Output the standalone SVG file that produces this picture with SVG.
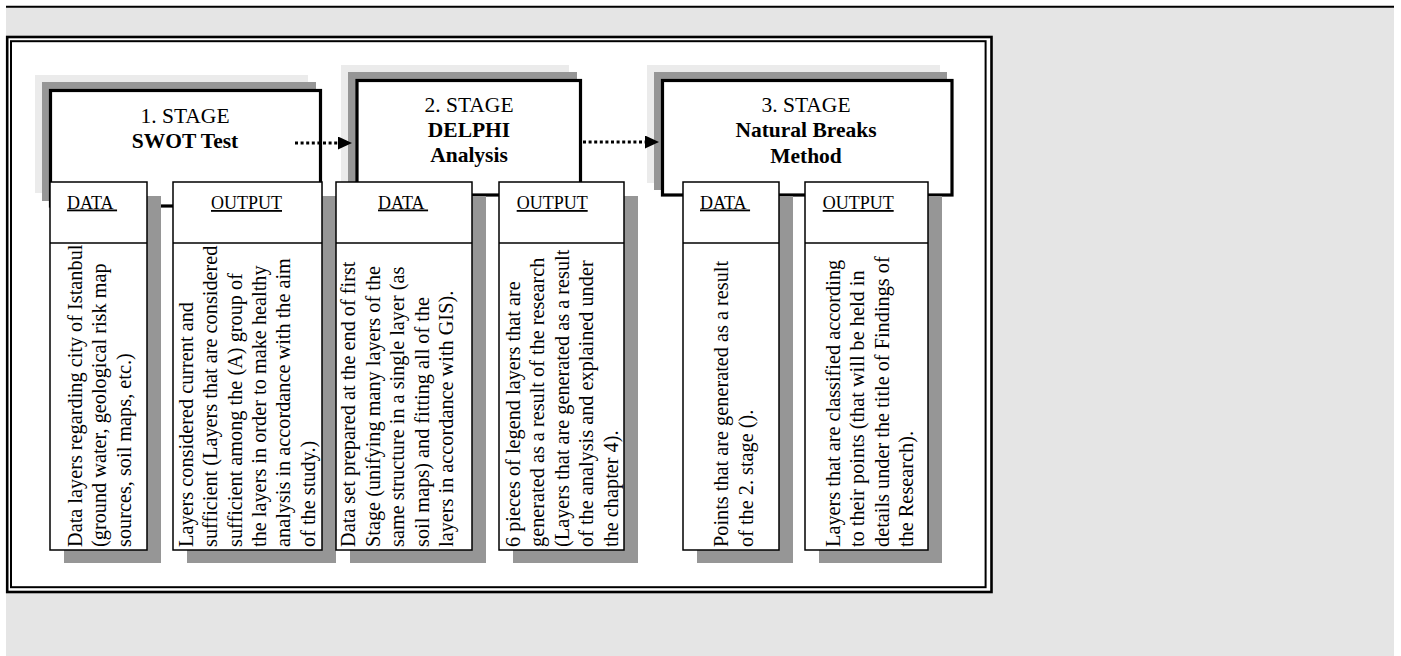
<svg xmlns="http://www.w3.org/2000/svg" width="1401" height="656" viewBox="0 0 1401 656">
<defs>
<style>
.st{font-family:"Liberation Serif","Times New Roman",serif;font-size:21.5px;fill:#000;text-anchor:middle}
.b{font-weight:bold}
.hd{font-family:"Liberation Serif","Times New Roman",serif;font-size:18px;fill:#000;text-decoration:underline}
.bd{font-family:"Liberation Serif","Times New Roman",serif;font-size:20.3px;fill:#000}
.lt{fill:#ebebeb}
.dk{fill:#969696}
.sbox{fill:#fff;stroke:#000;stroke-width:3.2}
.col{fill:#fff;stroke:#000;stroke-width:1.5}
.conn{stroke:#000;stroke-width:3;stroke-dasharray:3 2.6;fill:none}
</style>
<marker id="ah" markerWidth="14" markerHeight="13" refX="0" refY="6.5" orient="auto" markerUnits="userSpaceOnUse">
<path d="M0,0 L14,6.5 L0,13 Z" fill="#000"/>
</marker>
</defs>
<rect x="0" y="0" width="1401" height="656" fill="#fff"/>
<rect x="6" y="7" width="1388" height="649" fill="#e5e5e5"/>
<line x1="6" y1="6.8" x2="1394" y2="6.8" stroke="#000" stroke-width="2"/>
<g id="frame">
<rect x="7.2" y="37" width="984.3" height="555" fill="#fff" stroke="#000" stroke-width="2.6"/>
<rect x="11" y="41.2" width="974.6" height="546" fill="none" stroke="#000" stroke-width="2"/>
</g>
<g id="stage1">
<rect class="lt" x="35" y="75" width="273" height="118"/>
<rect class="dk" x="42" y="82" width="274" height="119"/>
<rect class="sbox" x="50.5" y="90.5" width="270" height="115.5"/>
<text class="st" x="185" y="122.7">1. STAGE</text>
<text class="st b" x="185" y="147.7">SWOT Test</text>
</g>
<g id="stage2">
<rect class="lt" x="341" y="65" width="228" height="118"/>
<rect class="dk" x="348" y="72" width="229" height="118"/>
<rect class="sbox" x="357" y="80.5" width="223.5" height="114.5"/>
<text class="st" x="469" y="112">2. STAGE</text>
<text class="st b" x="469" y="137">DELPHI</text>
<text class="st b" x="469" y="162">Analysis</text>
</g>
<g id="stage3">
<rect class="lt" x="647" y="65" width="293" height="118"/>
<rect class="dk" x="654" y="72" width="293" height="118"/>
<rect class="sbox" x="662.5" y="80.5" width="289.5" height="114.5"/>
<text class="st" x="806" y="111.7">3. STAGE</text>
<text class="st b" x="806" y="137">Natural Breaks</text>
<text class="st b" x="806" y="162.5">Method</text>
</g>
<g id="data1">
<rect class="dk" x="64" y="196" width="97" height="367"/>
<rect class="col" x="50" y="182" width="97" height="368"/>
<line x1="50" y1="243" x2="147" y2="243" stroke="#000" stroke-width="1.5"/>
<text class="hd" x="67" y="208.5" xml:space="preserve">DATA </text>
<text class="bd" transform="translate(81.5,547) rotate(-90)"><tspan x="0" dy="0">Data layers regarding city of Istanbul</tspan><tspan x="0" dy="24.5">(ground water, geological risk map</tspan><tspan x="0" dy="24.5">sources, soil maps, etc.)</tspan></text>
</g>
<g id="output1">
<rect class="dk" x="187" y="196" width="149" height="367"/>
<rect class="col" x="173" y="182" width="149" height="368"/>
<line x1="173" y1="243" x2="322" y2="243" stroke="#000" stroke-width="1.5"/>
<text class="hd" x="211" y="209">OUTPUT</text>
<text class="bd" transform="translate(193,547) rotate(-90)"><tspan x="0" dy="0">Layers considered current and</tspan><tspan x="0" dy="24.3">sufficient (Layers that are considered</tspan><tspan x="0" dy="24.3">sufficient among the (A) group of</tspan><tspan x="0" dy="24.3">the layers in order to make healthy</tspan><tspan x="0" dy="24.3">analysis in accordance with the aim</tspan><tspan x="0" dy="24.3">of the study.)</tspan></text>
</g>
<g id="data2">
<rect class="dk" x="350" y="196" width="136" height="367"/>
<rect class="col" x="336" y="182" width="136" height="368"/>
<line x1="336" y1="243" x2="472" y2="243" stroke="#000" stroke-width="1.5"/>
<text class="hd" x="378" y="208.5" xml:space="preserve">DATA </text>
<text class="bd" transform="translate(355,547) rotate(-90)"><tspan x="0" dy="0">Data set prepared at the end of first</tspan><tspan x="0" dy="24.5">Stage (unifying many layers of the</tspan><tspan x="0" dy="24.5">same structure in a single layer (as</tspan><tspan x="0" dy="24.5">soil maps) and fitting all of the</tspan><tspan x="0" dy="24.5">layers in accordance with GIS).</tspan></text>
</g>
<g id="output2">
<rect class="dk" x="513" y="196" width="125" height="367"/>
<rect class="col" x="499" y="182" width="125" height="368"/>
<line x1="499" y1="243" x2="624" y2="243" stroke="#000" stroke-width="1.5"/>
<text class="hd" x="516.7" y="209">OUTPUT</text>
<text class="bd" transform="translate(519.5,547) rotate(-90)"><tspan x="0" dy="0">6 pieces of legend layers that are</tspan><tspan x="0" dy="24.5">generated as a result of the research</tspan><tspan x="0" dy="24.5">(Layers that are generated as a result</tspan><tspan x="0" dy="24.5">of the analysis and explained under</tspan><tspan x="0" dy="24.5">the chapter 4).</tspan></text>
</g>
<g id="data3">
<rect class="dk" x="697" y="196" width="96" height="367"/>
<rect class="col" x="683" y="182" width="96" height="368"/>
<line x1="683" y1="243" x2="779" y2="243" stroke="#000" stroke-width="1.5"/>
<text class="hd" x="700" y="208.5" xml:space="preserve">DATA </text>
<text class="bd" transform="translate(728,547) rotate(-90)"><tspan x="0" dy="0">Points that are generated as a result</tspan><tspan x="0" dy="24.5">of the 2. stage ().</tspan></text>
</g>
<g id="output3">
<rect class="dk" x="819" y="196" width="123" height="367"/>
<rect class="col" x="805" y="182" width="123" height="368"/>
<line x1="805" y1="243" x2="928" y2="243" stroke="#000" stroke-width="1.5"/>
<text class="hd" x="822.7" y="209">OUTPUT</text>
<text class="bd" transform="translate(839.5,547) rotate(-90)"><tspan x="0" dy="0">Layers that are classified according</tspan><tspan x="0" dy="24.5">to their points (that will be held in</tspan><tspan x="0" dy="24.5">details under the title of Findings of</tspan><tspan x="0" dy="24.5">the Research).</tspan></text>
</g>
<g id="connectors">
<line class="conn" x1="295" y1="143" x2="338" y2="143" marker-end="url(#ah)"/>
<line class="conn" x1="583" y1="142" x2="645" y2="142" marker-end="url(#ah)"/>
</g>
</svg>
